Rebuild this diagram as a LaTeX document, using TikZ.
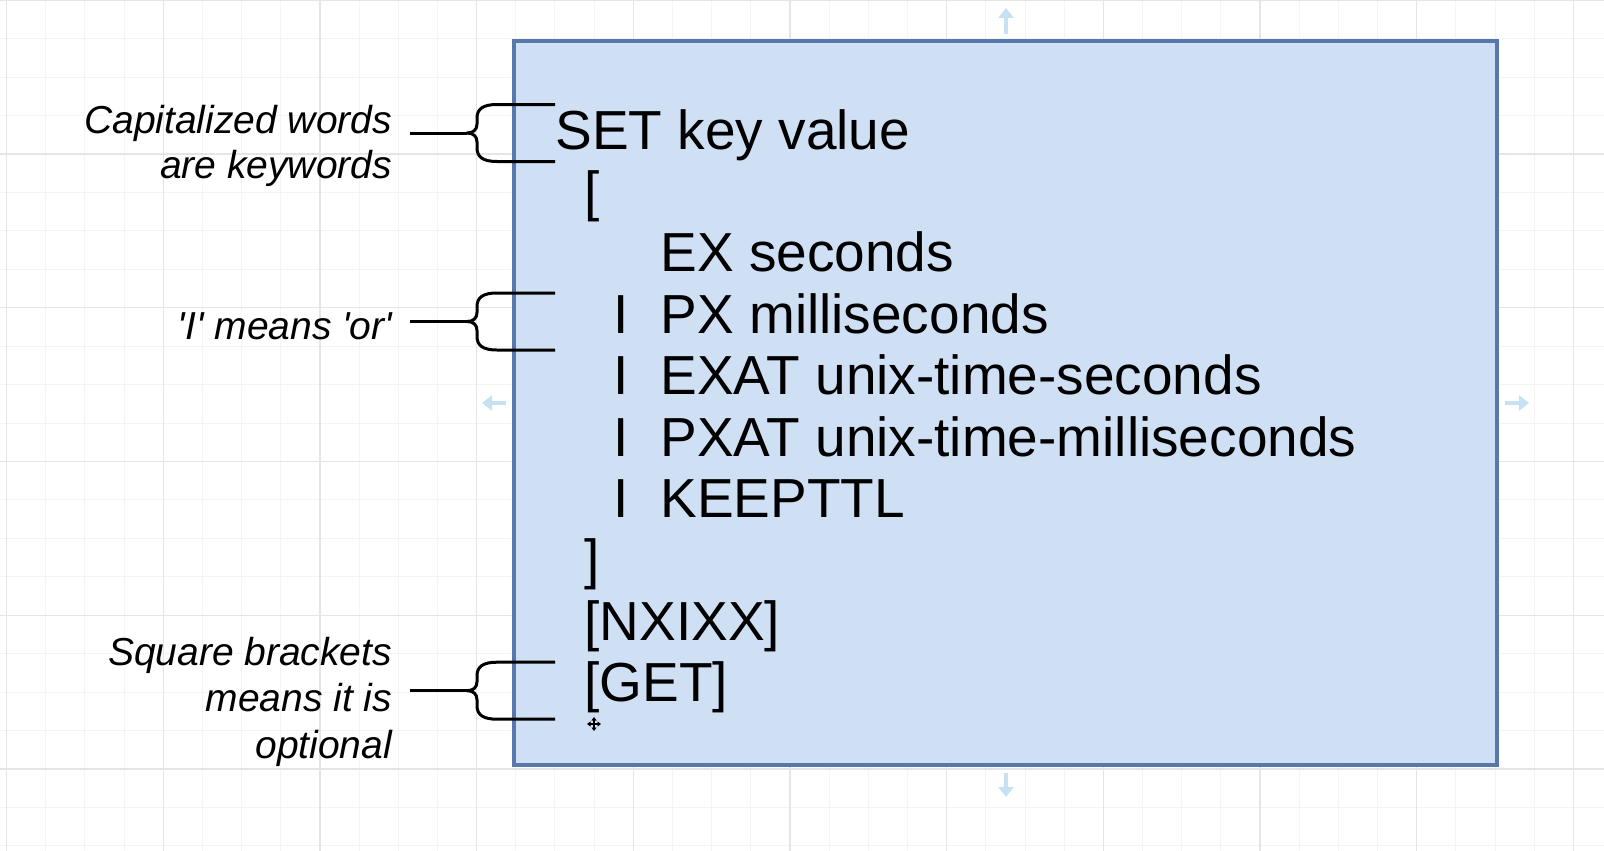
\documentclass[tikz,border=0pt]{standalone}
\usepackage{fontspec}
\setmainfont{Liberation Sans}
\newfontfamily\dfont{Liberation Sans}
\usetikzlibrary{arrows.meta}
\definecolor{gridminor}{HTML}{F4F4F4}
\definecolor{gridmajor}{HTML}{E5E5E5}
\definecolor{boxfill}{HTML}{CFE0F5}
\definecolor{boxdraw}{HTML}{5877AA}
\definecolor{hoverblue}{HTML}{C6E2F2}
\tikzset{
  code/.style={anchor=base west, inner sep=0pt, outer sep=0pt, text=black,
    font=\dfont\fontsize{55}{61.4}\selectfont},
  note/.style={anchor=base east, inner sep=0pt, outer sep=0pt, text=black,
    font=\dfont\fontsize{39}{46}\selectfont\itshape},
  bracestroke/.style={draw=black, line width=3pt, line join=round},
  curly/.pic={\draw[bracestroke] (88,-28.5) -- (30,-28.5)
      .. controls (16,-28.5) and (10,-24) .. (10,-15) -- (10,-9)
      .. controls (10,-3) and (6,0) .. (0,0)
      .. controls (6,0) and (10,3) .. (10,9) -- (10,15)
      .. controls (10,24) and (16,28.5) .. (30,28.5) -- (88,28.5);},
  hover/.style={draw=hoverblue, line width=4.5pt, -{Triangle[width=15pt,length=10pt]}},
  cursorline/.style={draw=black, line width=1.3pt,
    {Triangle[length=3.5pt,width=5pt]}-{Triangle[length=3.5pt,width=5pt]}}
}
\begin{document}
\begin{tikzpicture}[x=1pt,y=-1pt]
\useasboundingbox (0,0) rectangle (1604,851);
\fill[white] (0,0) rectangle (1604,851);
\begin{scope}
\clip (0,0) rectangle (1604,851);
% grid
\foreach \i in {0,...,41} \draw[gridminor, line width=1pt] (6.5+39.175*\i,0) -- ++(0,851);
\foreach \j in {0,...,22} \draw[gridminor, line width=1pt] (0,0.4+38.43*\j) -- ++(1604,0);
\foreach \i in {0,...,10} \draw[gridmajor, line width=1.3pt] (6.5+156.7*\i,0) -- ++(0,851);
\foreach \j in {0,...,5} \draw[gridmajor, line width=1.3pt] (0,0.4+153.7*\j) -- ++(1604,0);
\end{scope}

% main box
\draw[fill=boxfill, draw=boxdraw, line width=3.5pt] (514,41) rectangle (1497,765);
\coordinate (box) at (1005.5,403);

% hover arrows
\draw[hover] (1006,34) -- (1006,8);
\draw[hover] (1006,773) -- (1006,797);
\draw[hover] (506,403) -- (482,403);
\draw[hover] (1505,403) -- (1529,403);

% code text
\node[code] (l1) at (555.5,149) {SET key value};
\node[code] (l2) at (584.5,210.4) {[};
\node[code] (l3) at (660.6,271.8) {EX seconds};
\node[code] (b1) at (613,333.2) {I};
\node[code] (l4) at (660.6,333.2) {PX milliseconds};
\node[code] (b2) at (613,394.6) {I};
\node[code] (l5) at (660.6,394.6) {EXAT unix-time-seconds};
\node[code] (b3) at (613,456) {I};
\node[code] (l6) at (660.6,456) {PXAT unix-time-milliseconds};
\node[code] (b4) at (613,517.4) {I};
\node[code] (l7) at (660.6,517.4) {KEEPTTL};
\node[code] (l8) at (584.5,578.8) {]};
\node[code] (l9) at (584.5,640.2) {[NXIXX]};
\node[code] (l10) at (584.5,701.6) {[GET]};

% notes
\node[note] (n1a) at (392,133) {Capitalized words};
\node[note] (n1b) at (392,178) {are keywords};
\node[note] (n2) at (392,339.7) {'I' means 'or'};
\node[note] (n3a) at (392,665) {Square brackets};
\node[note] (n3b) at (392,711.7) {means it is};
\node[note] (n3c) at (392,758.3) {optional};

% braces
\coordinate (s1) at (410,133);   \coordinate (t1) at (467,133);
\coordinate (s2) at (410,321.5); \coordinate (t2) at (467,321.5);
\coordinate (s3) at (410,690.7); \coordinate (t3) at (467,690.7);
\draw[bracestroke] (s1) -- (t1);
\draw[bracestroke] (s2) -- (t2);
\draw[bracestroke] (s3) -- (t3);
\pic at (t1) {curly};
\pic at (t2) {curly};
\pic at (t3) {curly};

% move cursor
\coordinate (cur) at (594,724);
\draw[cursorline] ([xshift=-7pt]cur) -- ([xshift=7pt]cur);
\draw[cursorline] ([yshift=-7pt]cur) -- ([yshift=7pt]cur);
\end{tikzpicture}
\end{document}
